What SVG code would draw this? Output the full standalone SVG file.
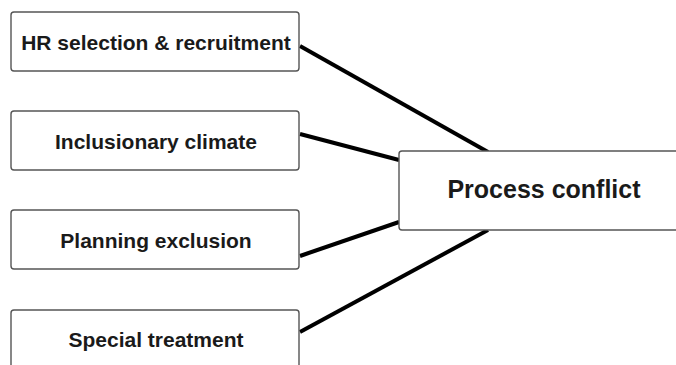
<svg xmlns="http://www.w3.org/2000/svg" width="676" height="365" viewBox="0 0 676 365">
  <style>
    .box { fill: #ffffff; stroke: #555555; stroke-width: 1.4; }
    .lbl { font-family: "Liberation Sans", Arial, sans-serif; font-weight: bold; font-size: 21px; fill: #1a1a1a; text-anchor: middle; }
    .big { font-size: 25px; }
    .link { stroke: #000000; stroke-width: 4; fill: none; }
  </style>
  <rect width="676" height="365" fill="#ffffff"/>
  <g id="connectors">
    <line class="link" x1="300" y1="46" x2="488" y2="152"/>
    <line class="link" x1="300" y1="134" x2="399" y2="160"/>
    <line class="link" x1="300" y1="256" x2="399" y2="222"/>
    <line class="link" x1="300" y1="332" x2="488" y2="230"/>
  </g>
  <g id="hr-selection">
    <rect class="box" x="11" y="12" width="288" height="59" rx="3"/>
    <text class="lbl" x="156" y="50">HR selection &amp; recruitment</text>
  </g>
  <g id="inclusionary-climate">
    <rect class="box" x="11" y="111" width="288" height="59" rx="3"/>
    <text class="lbl" x="156" y="149">Inclusionary climate</text>
  </g>
  <g id="planning-exclusion">
    <rect class="box" x="11" y="210" width="288" height="59" rx="3"/>
    <text class="lbl" x="156" y="248">Planning exclusion</text>
  </g>
  <g id="special-treatment">
    <rect class="box" x="11" y="310" width="288" height="70" rx="3"/>
    <text class="lbl" x="156" y="347">Special treatment</text>
  </g>
  <g id="process-conflict">
    <rect class="box" x="399" y="151" width="290" height="79" rx="3"/>
    <text class="lbl big" x="544" y="198">Process conflict</text>
  </g>
</svg>
